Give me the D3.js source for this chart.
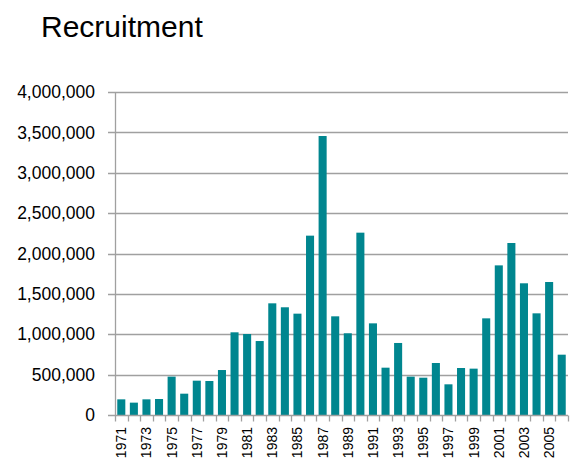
<!DOCTYPE html>
<html>
<head>
<meta charset="utf-8">
<script src="https://cdn.jsdelivr.net/npm/d3@7"></script>
<style>
  body { margin: 0; background: #fff; }
  svg { display: block; font-family: "Liberation Sans", Arial, sans-serif; }
</style>
</head>
<body>
<svg id="chart" width="577" height="459"></svg>
<script>
var years = d3.range(1971, 2007);
var recruitment = [
    194000, 153000, 194000, 198000, 475000, 264000, 425000, 421000, 557000, 1024000,
    1003000, 916000, 1383000, 1334000, 1255000, 2221000, 3455000, 1222000, 1012000, 2258000,
    1135000, 586000, 892000, 475000, 462000, 644000, 380000, 582000, 574000, 1197000,
    1853000, 2130000, 1631000, 1259000, 1647000, 747000
];
var yTicks = [0, 500000, 1000000, 1500000, 2000000, 2500000, 3000000, 3500000, 4000000];
var title = "Recruitment";

var data = years.map((y, i) => ({ year: y, value: recruitment[i] }));

var svg = d3.select("svg#chart");

var margin = { left: 115, right: 9, top: 92, bottom: 44 },
    width = +svg.attr("width"),
    height = +svg.attr("height");

var x = d3
    .scaleBand()
    .domain(years)
    .range([margin.left, width - margin.right])
    .paddingInner(0.36)
    .paddingOuter(0.18);

var y = d3
    .scaleLinear()
    .domain([0, 4000000])
    .range([height - margin.bottom, margin.top]);

// gridlines
svg.append("g")
    .selectAll("line")
    .data(yTicks.slice(1))
    .enter()
    .append("line")
    .attr("x1", margin.left - 7)
    .attr("x2", width - margin.right)
    .attr("y1", d => Math.round(y(d)) + 0.5)
    .attr("y2", d => Math.round(y(d)) + 0.5)
    .attr("stroke", "#a0a0a0")
    .attr("stroke-width", 1.3);

// y labels
svg.append("g")
    .selectAll("text")
    .data(yTicks)
    .enter()
    .append("text")
    .attr("x", margin.left - 20)
    .attr("y", d => y(d))
    .attr("dy", "0.35em")
    .attr("text-anchor", "end")
    .style("font-size", "17.5px")
    .attr("fill", "#000")
    .text(d => d3.format(",")(d));

// bars
svg.append("g")
    .selectAll("rect")
    .data(data)
    .enter()
    .append("rect")
    .attr("x", d => x(d.year))
    .attr("width", x.bandwidth())
    .attr("y", d => y(d.value))
    .attr("height", d => y(0) - y(d.value))
    .attr("fill", "#00868f");

// x axis line and ticks between bands
var base = Math.round(y(0)) + 0.5;
svg.append("line")
    .attr("x1", margin.left - 7)
    .attr("x2", width - margin.right)
    .attr("y1", base)
    .attr("y2", base)
    .attr("stroke", "#a0a0a0")
    .attr("stroke-width", 1.3);

var step = x.step();
svg.append("g")
    .selectAll("line")
    .data(d3.range(years.length + 1))
    .enter()
    .append("line")
    .attr("x1", i => Math.round(margin.left + i * step) + 0.5)
    .attr("x2", i => Math.round(margin.left + i * step) + 0.5)
    .attr("y1", base)
    .attr("y2", base + 6)
    .attr("stroke", "#a0a0a0")
    .attr("stroke-width", 1.3);

// y axis line
svg.append("line")
    .attr("x1", margin.left + 0.5)
    .attr("x2", margin.left + 0.5)
    .attr("y1", margin.top)
    .attr("y2", base)
    .attr("stroke", "#a0a0a0")
    .attr("stroke-width", 1.3);

// x labels (every other year)
svg.append("g")
    .selectAll("text")
    .data(years.filter((d, i) => i % 2 === 0))
    .enter()
    .append("text")
    .attr("transform", d =>
        "translate(" + (x(d) + x.bandwidth() / 2) + "," + (base + 11.5) + ") rotate(-90)")
    .attr("dy", "0.35em")
    .attr("text-anchor", "end")
    .style("font-size", "14px")
    .attr("fill", "#000")
    .text(d => d);

svg.append("text")
    .attr("x", 41)
    .attr("y", 37)
    .style("font-size", "30px")
    .attr("fill", "#000")
    .text(title);
</script>
</body>
</html>
